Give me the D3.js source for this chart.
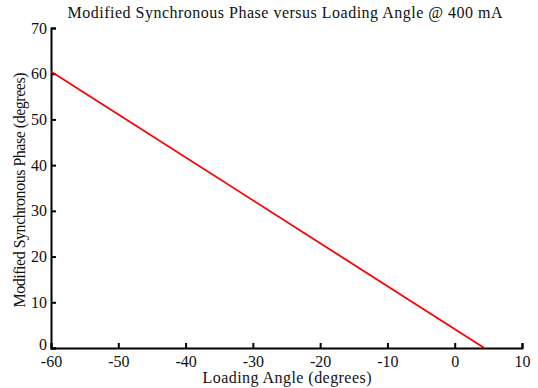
<!DOCTYPE html>
<html>
<head>
<meta charset="utf-8">
<script src="https://cdn.jsdelivr.net/npm/d3@7"></script>
<style>
body { margin: 0; background: #fff; }
text { font-family: "Liberation Serif", "Times New Roman", serif; fill: #111; }
</style>
</head>
<body>
<svg width="538" height="388"></svg>
<script>
// line data
var angle = [-60, 4.4];
var phase = [60.5, 0];
var xTicks = [-60, -50, -40, -30, -20, -10, 0, 10];
var yTicks = [0, 10, 20, 30, 40, 50, 60, 70];

var svg = d3.select('svg'),
    margin = {left: 51, right: 16, top: 28, bottom: 40},
    width = +svg.attr('width') - margin.left - margin.right,
    height = +svg.attr('height') - margin.top - margin.bottom,
    g = svg.append('g').attr('transform', 'translate(' + margin.left + ',' + margin.top + ')');

var x = d3.scaleLinear().domain([-60, 10]).range([0, width]);
var y = d3.scaleLinear().domain([0, 70]).range([height, 0]);

var xAxis = g.append('g')
    .attr('transform', 'translate(0,' + height + ')')
    .call(d3.axisBottom(x).tickValues(xTicks).tickSize(-5).tickPadding(8).tickFormat(String));
var yAxis = g.append('g')
    .call(d3.axisLeft(y).tickValues(yTicks).tickSize(-5).tickPadding(4).tickFormat(String));

[xAxis, yAxis].forEach(function(a) {
    a.select('.domain').attr('stroke', '#000').attr('stroke-width', 2);
    a.selectAll('.tick line').attr('stroke', '#000').attr('stroke-width', 2);
    a.selectAll('.tick text')
        .attr('fill', '#111')
        .style('font-size', '16px')
        .style('font-family', '"Liberation Serif", serif');
});
xAxis.selectAll('.tick text').attr('dy', '0.7em');
// the 0 on the y axis sits a little above the x axis line
yAxis.selectAll('.tick text').filter(function(d) { return d === 0; }).attr('dy', '0.1em');

var pts = angle.map(function(a, i) { return [a, phase[i]]; });
g.append('path')
    .datum(pts)
    .attr('fill', 'none')
    .attr('stroke', '#ff0000')
    .attr('stroke-width', 1.8)
    .attr('d', d3.line().x(function(d) { return x(d[0]); }).y(function(d) { return y(d[1]); }));

svg.append('text')
    .attr('x', 285)
    .attr('y', 18)
    .attr('text-anchor', 'middle')
    .attr('textLength', 435)
    .attr('lengthAdjust', 'spacing')
    .style('font-size', '16px')
    .text('Modified Synchronous Phase versus Loading Angle @ 400 mA');

svg.append('text')
    .attr('x', 287)
    .attr('y', 383)
    .attr('text-anchor', 'middle')
    .attr('textLength', 169)
    .attr('lengthAdjust', 'spacing')
    .style('font-size', '16px')
    .text('Loading Angle (degrees)');

svg.append('text')
    .attr('transform', 'translate(25,190) rotate(-90)')
    .attr('text-anchor', 'middle')
    .attr('textLength', 235)
    .attr('lengthAdjust', 'spacing')
    .style('font-size', '16px')
    .text('Modified Synchronous Phase (degrees)');
</script>
</body>
</html>
